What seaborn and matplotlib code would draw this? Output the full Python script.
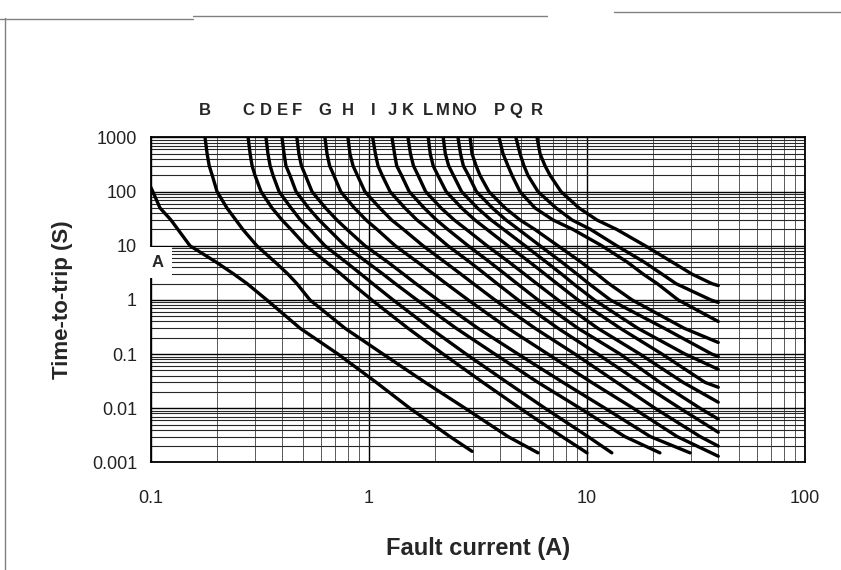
import numpy as np
import pandas as pd
import matplotlib
matplotlib.use("Agg")
import matplotlib.pyplot as plt
import seaborn as sns
from matplotlib.lines import Line2D
from matplotlib.ticker import LogLocator, NullFormatter

trip_levels = [1000, 500, 300, 200, 100, 50, 30, 20, 10, 5, 3, 2, 1,
               0.3, 0.1, 0.03, 0.01, 0.003]

# curve A runs in from the left edge, so it keeps its own times
a_amps = [0.098, 0.102, 0.110, 0.1235, 0.133, 0.151, 0.199, 0.240, 0.276,
          0.340, 0.483, 0.721, 1.08, 1.54, 2.35, 2.97]
a_secs = [140, 100, 50, 30, 20, 10, 5, 3, 2, 1, 0.3, 0.1, 0.03, 0.01,
          0.003, 0.0016]

# currents (A) at the trip levels above, then the point where each curve stops
b_amps = [0.177, 0.181, 0.185, 0.191, 0.201, 0.223, 0.245, 0.264, 0.306,
          0.371, 0.425, 0.467, 0.536, 0.776, 1.16, 1.81, 2.76, 4.34]
b_end = (5.96, 0.0015)
c_amps = [0.279, 0.285, 0.291, 0.300, 0.320, 0.359, 0.399, 0.439, 0.514,
          0.638, 0.744, 0.836, 1.03, 1.51, 2.19, 3.33, 4.93, 7.68]
c_end = (10.0, 0.0015)
d_amps = [0.337, 0.344, 0.352, 0.363, 0.387, 0.439, 0.485, 0.536, 0.628,
          0.784, 0.919, 1.04, 1.29, 1.91, 2.79, 4.30, 6.42, 10.1]
d_end = (13.0, 0.0015)
e_amps = [0.399, 0.408, 0.416, 0.434, 0.463, 0.528, 0.590, 0.653, 0.776,
          0.979, 1.16, 1.32, 1.66, 2.51, 3.78, 5.96, 9.29, 14.9]
e_end = (21.6, 0.0015)
f_amps = [0.467, 0.477, 0.490, 0.511, 0.548, 0.632, 0.712, 0.793, 0.959,
          1.22, 1.44, 1.64, 2.07, 3.16, 4.83, 7.76, 12.1, 19.5]
f_end = (29.7, 0.0015)
g_amps = [0.628, 0.642, 0.660, 0.690, 0.742, 0.857, 0.969, 1.09, 1.32,
          1.67, 1.98, 2.26, 2.85, 4.34, 6.62, 10.5, 16.3, 25.9]
g_end = (40, 0.0013)
h_amps = [0.801, 0.818, 0.845, 0.885, 0.958, 1.12, 1.27, 1.44, 1.77,
          2.23, 2.64, 3.01, 3.78, 5.77, 8.81, 13.7, 20.5, 33.0]
h_end = (40, 0.0020)
i_amps = [1.04, 1.07, 1.10, 1.15, 1.25, 1.46, 1.66, 1.88, 2.30,
          2.90, 3.41, 3.87, 4.83, 7.36, 11.2, 17.5, 26.7]
i_end = (40, 0.0036)
j_amps = [1.275, 1.31, 1.34, 1.41, 1.53, 1.79, 2.04, 2.30, 2.85,
          3.58, 4.21, 4.78, 5.96, 9.09, 14.2, 21.6, 33.0]
j_end = (40, 0.0063)
k_amps = [1.51, 1.55, 1.60, 1.68, 1.82, 2.14, 2.46, 2.80, 3.48,
          4.39, 5.17, 5.88, 7.36, 11.2, 17.5, 27.6]
k_end = (40, 0.0129)
l_amps = [1.87, 1.91, 1.97, 2.07, 2.26, 2.66, 3.06, 3.48, 4.34,
          5.46, 6.42, 7.29, 9.09, 14.2, 22.1, 34.8]
l_end = (40, 0.0244)
m_amps = [2.19, 2.24, 2.32, 2.44, 2.66, 3.14, 3.63, 4.15, 5.20,
          6.51, 7.65, 8.65, 10.8, 17.1, 28.2]
m_end = (40, 0.0523)
n_amps = [2.56, 2.63, 2.71, 2.86, 3.11, 3.68, 4.25, 4.86, 6.09,
          7.66, 9.00, 10.2, 12.8, 22.6, 37.4]
n_end = (40, 0.0907)
o_amps = [2.91, 2.97, 3.10, 3.23, 3.55, 4.21, 4.93, 5.77, 7.36,
          9.39, 11.1, 12.6, 16.1, 27.9]
o_end = (40, 0.164)
p_amps = [3.95, 4.12, 4.34, 4.53, 4.93, 5.77, 6.98, 8.63, 11.7,
          15.3, 18.1, 21.0, 26.2]
p_end = (40, 0.40)
q_amps = [4.72, 4.93, 5.14, 5.36, 5.96, 7.21, 8.54, 10.4, 13.7,
          18.3, 22.1, 25.6, 37.0]
q_end = (40, 0.90)
r_amps = [5.90, 6.09, 6.42, 6.77, 7.60, 9.19, 11.1, 13.7, 18.5,
          24.6, 30.3, 37.4]
r_end = (40, 1.84)

x_ticks = [0.1, 1, 10, 100]
x_ticklabels = ["0.1", "1", "10", "100"]
y_ticks = [0.001, 0.01, 0.1, 1, 10, 100, 1000]
y_ticklabels = ["0.001", "0.01", "0.1", "1", "10", "100", "1000"]

leveled = [
    ("B", b_amps, b_end), ("C", c_amps, c_end), ("D", d_amps, d_end),
    ("E", e_amps, e_end), ("F", f_amps, f_end), ("G", g_amps, g_end),
    ("H", h_amps, h_end), ("I", i_amps, i_end), ("J", j_amps, j_end),
    ("K", k_amps, k_end), ("L", l_amps, l_end), ("M", m_amps, m_end),
    ("N", n_amps, n_end), ("O", o_amps, o_end), ("P", p_amps, p_end),
    ("Q", q_amps, q_end), ("R", r_amps, r_end),
]

rows = []
for amp, sec in zip(a_amps, a_secs):
    rows.append({"curve": "A", "amps": amp, "secs": sec})
for name, amps, end in leveled:
    for amp, sec in zip(amps, trip_levels):
        rows.append({"curve": name, "amps": amp, "secs": sec})
    rows.append({"curve": name, "amps": end[0], "secs": end[1]})
df = pd.DataFrame(rows)

sns.set_theme(style="white")
plt.rcParams["font.family"] = ["Liberation Sans", "DejaVu Sans"]

fig = plt.figure(figsize=(8.41, 5.70), dpi=100)
ax = fig.add_axes([0.1795, 0.1888, 0.7777, 0.570])
ax.set_xscale("log")
ax.set_yscale("log")

sns.lineplot(data=df, x="amps", y="secs", units="curve", estimator=None,
             sort=False, color="black", linewidth=2.4, legend=False, ax=ax,
             zorder=3, solid_joinstyle="round")

ax.set_xlim(0.1, 100)
ax.set_ylim(0.001, 1000)

# log paper grid
ax.xaxis.set_minor_locator(LogLocator(base=10, subs=np.arange(2, 10)))
ax.yaxis.set_minor_locator(LogLocator(base=10, subs=np.arange(2, 10)))
ax.xaxis.set_minor_formatter(NullFormatter())
ax.yaxis.set_minor_formatter(NullFormatter())
ax.xaxis.grid(True, which="major", color="black", linewidth=1.0)
ax.yaxis.grid(True, which="major", color="black", linewidth=1.0)
ax.xaxis.grid(True, which="minor", color="0.35", linewidth=0.7)
ax.yaxis.grid(True, which="minor", color="0.15", linewidth=0.8)
ax.set_axisbelow(True)

ax.set_xticks(x_ticks)
ax.set_xticklabels(x_ticklabels)
ax.set_yticks(y_ticks)
ax.set_yticklabels(y_ticklabels)
ax.tick_params(axis="both", which="both", length=0, labelsize=13,
               colors="#222222")
ax.tick_params(axis="x", pad=20)
ax.tick_params(axis="y", pad=10)

for side in ax.spines.values():
    side.set_color("black")
    side.set_linewidth(1.3)

ax.set_xlabel("Fault current (A)", fontsize=17, fontweight="bold", va="center")
ax.xaxis.set_label_coords(0.5, -0.266)
ax.set_ylabel("Time-to-trip (S)", fontsize=16, fontweight="bold", va="center")
ax.yaxis.set_label_coords(-0.136, 0.5)

# curve letters above the frame
for name, amps, end in leveled:
    ax.text(amps[0], 1.083, name, transform=ax.get_xaxis_transform(),
            ha="center", va="center", fontsize=12, fontweight="bold")
ax.text(0.107, 4.9, "A", ha="center", va="center", fontsize=12,
        fontweight="bold", zorder=5,
        bbox=dict(boxstyle="square,pad=0.5", fc="white", ec="none"))

# edge of the scanned page
page = dict(color="0.5", linewidth=1.0)
fig.add_artist(Line2D([0.006, 0.006], [1 - 18 / 570, 0.0], **page))
fig.add_artist(Line2D([0.0, 0.23], [1 - 18.5 / 570] * 2, **page))
fig.add_artist(Line2D([0.23, 0.65], [1 - 16 / 570] * 2, **page))
fig.add_artist(Line2D([0.73, 1.0], [1 - 12 / 570] * 2, **page))

fig.savefig("out.png", dpi=100, facecolor="white")
